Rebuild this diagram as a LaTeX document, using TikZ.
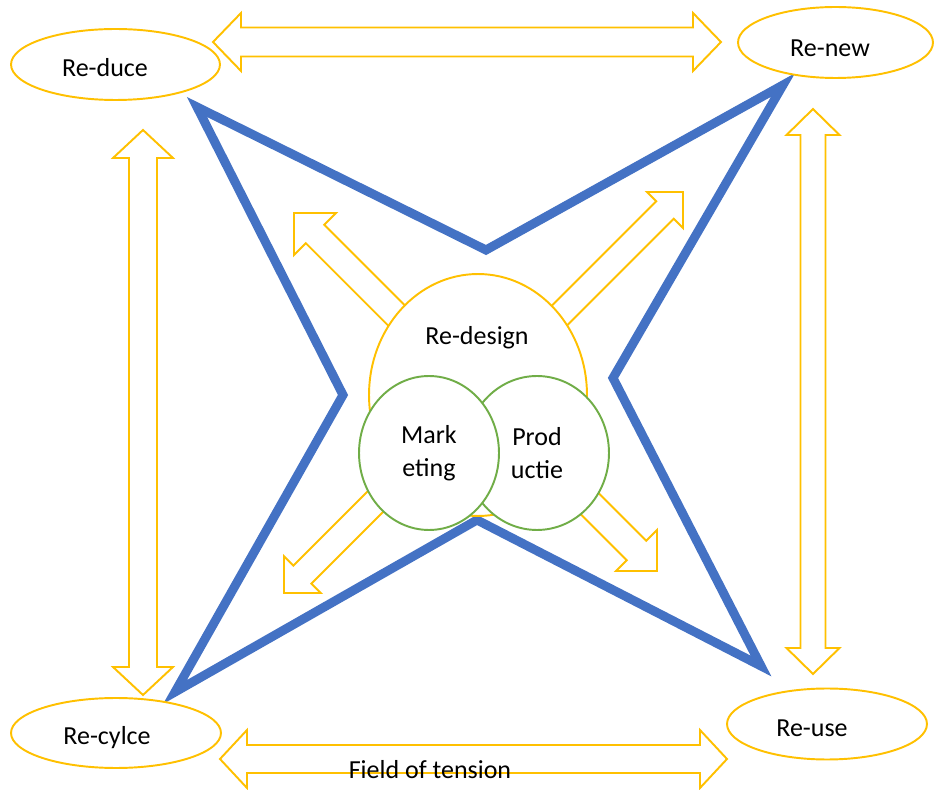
\documentclass[tikz,border=0pt]{standalone}
\usepackage{fontspec}
\setmainfont{Carlito}
\usetikzlibrary{shapes.geometric}
\definecolor{tensgold}{HTML}{FFC000}
\definecolor{tensblue}{HTML}{4472C4}
\definecolor{tensgreen}{HTML}{70AD47}

\tikzset{
  blockarrow/.style={draw=tensgold, line width=1.1pt, line join=miter},
  oval/.style={ellipse, draw=tensgold, line width=1.1pt, fill=white, inner sep=0pt, minimum height=1.42cm},
  venn/.style={ellipse, draw=tensgreen, line width=1.1pt, fill=white, inner sep=0pt, align=center, minimum height=3.08cm},
  fieldline/.style={draw=tensblue, line width=0.18cm, line join=miter}
}

\begin{document}
\begin{tikzpicture}[x=0.02cm, y=-0.02cm, font=\fontsize{14.8}{18.8}\selectfont]
  \useasboundingbox (0,0) rectangle (934,790);

  % Double arrows between the four corners
  \foreach \cx/\cy/\rot/\len/\hl/\hw/\sw in {467/42/0/254/28/29/14.5, 473.5/759/0/253.5/27/29/14, 143/412.5/90/282.5/28/30/14, 813/391.5/90/282.5/26/26.5/12.5} {
    \begin{scope}[shift={(\cx,\cy)}, rotate=\rot]
      \draw[blockarrow] (-\len,0) -- (-\len+\hl,\hw) -- (-\len+\hl,\sw) -- (\len-\hl,\sw) -- (\len-\hl,\hw) -- (\len,0)
        -- (\len-\hl,-\hw) -- (\len-\hl,-\sw) -- (-\len+\hl,-\sw) -- (-\len+\hl,-\hw) -- cycle;
    \end{scope}
  }

  % Field of tension (blue star)
  \draw[fieldline] (197,107) -- (486,250) -- (783,85) -- (613,378) -- (761,666) -- (477,520) -- (175,692) -- (343,395) -- cycle;

  % Arrows out of the centre
  \foreach \tx/\ty/\rot/\hl/\sw/\len in {294/213/135/29.7/13/170, 683/192/45/25.5/12.4/200, 284/593/225/26/12.7/150, 657/571/-45/29/13.8/120} {
    \begin{scope}[shift={(\tx,\ty)}, rotate=\rot]
      \draw[blockarrow] (0,0) -- (-\hl,\hl) -- (-\hl,\sw) -- (-\len,\sw) -- (-\len,-\sw) -- (-\hl,-\sw) -- (-\hl,-\hl) -- cycle;
    \end{scope}
  }

  % Centre
  \node[oval, minimum width=4.36cm, minimum height=4.84cm, label={[xshift=-0.02cm, yshift=1.14cm]center:Re-design}] (redesign) at (478,395) {};
  \node[venn, minimum width=2.88cm] (productie) at (537,453) {Prod\\uctie};
  \node[venn, minimum width=2.8cm] (marketing) at (429,453) {Mark\\eting};

  % Corners
  \node[oval, minimum width=4.18cm, label={[xshift=-0.21cm, yshift=-0.07cm]center:Re-duce}] (reduce) at (115.5,64.5) {};
  \node[oval, minimum width=3.9cm, label={[xshift=-0.11cm, yshift=-0.11cm]center:Re-new}] (renew) at (835.5,42.5) {};
  \node[oval, minimum width=4.2cm, minimum height=1.4cm, label={[xshift=-0.18cm, yshift=-0.1cm]center:Re-cylce}] (recycle) at (116,733) {};
  \node[oval, minimum width=4cm, label={[xshift=-0.3cm, yshift=-0.08cm]center:Re-use}] (reuse) at (827,724) {};

  \node (tension) at (430,770) {Field of tension};
\end{tikzpicture}
\end{document}
